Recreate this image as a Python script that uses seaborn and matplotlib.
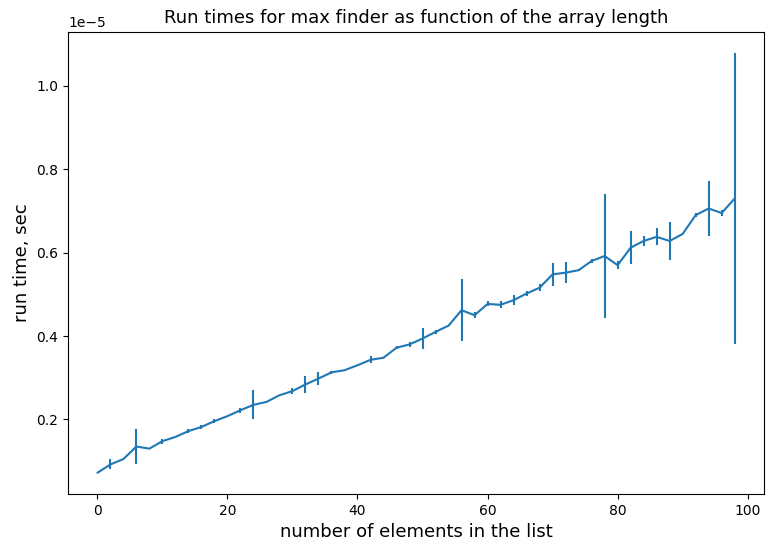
import matplotlib
matplotlib.use("Agg")
import matplotlib.pyplot as plt
import numpy as np
import seaborn as sns

sns.set_style("ticks", {"text.color": "black", "axes.labelcolor": "black",
                        "xtick.color": "black", "ytick.color": "black",
                        "axes.edgecolor": "black"})
plt.rcParams["font.family"] = ["DejaVu Sans"]

sizes = list(range(0, 100, 2))
times = [0.072, 0.092, 0.105, 0.135, 0.130, 0.148, 0.158, 0.172, 0.182, 0.196,
         0.208, 0.222, 0.235, 0.242, 0.258, 0.268, 0.284, 0.298, 0.313, 0.318,
         0.330, 0.343, 0.348, 0.372, 0.380, 0.394, 0.410, 0.425, 0.462, 0.450,
         0.477, 0.475, 0.486, 0.502, 0.516, 0.548, 0.552, 0.558, 0.580, 0.592,
         0.570, 0.612, 0.628, 0.638, 0.628, 0.645, 0.690, 0.706, 0.695, 0.730]
errs = [0.0, 0.012, 0.0, 0.042, 0.0, 0.006, 0.0, 0.004, 0.004, 0.004,
        0.0, 0.006, 0.035, 0.0, 0.0, 0.008, 0.02, 0.015, 0.004, 0.0,
        0.0, 0.008, 0.0, 0.004, 0.006, 0.025, 0.004, 0.0, 0.075, 0.007,
        0.006, 0.008, 0.012, 0.005, 0.008, 0.028, 0.025, 0.003, 0.005, 0.148,
        0.01, 0.04, 0.012, 0.02, 0.045, 0.0, 0.005, 0.067, 0.008, 0.35]

t = np.array(times) * 1e-5
e = np.array(errs) * 1e-5

fig, ax = plt.subplots(figsize=(7.74, 5.53), dpi=100)
sns.lineplot(x=sizes, y=t, ax=ax, color="#1f77b4", linewidth=1.5)
ax.errorbar(sizes, t, yerr=e, fmt="none", ecolor="#1f77b4", elinewidth=1.5)
ax.set_title("Run times for max finder as function of the array length", fontsize=13)
ax.set_xlabel("number of elements in the list", fontsize=13)
ax.set_ylabel("run time, sec", fontsize=13)
ax.set_xlim(-4.5, 102.5)
fig.subplots_adjust(left=0.088, right=0.987, top=0.943, bottom=0.107)
fig.savefig("out.png", dpi=100)
